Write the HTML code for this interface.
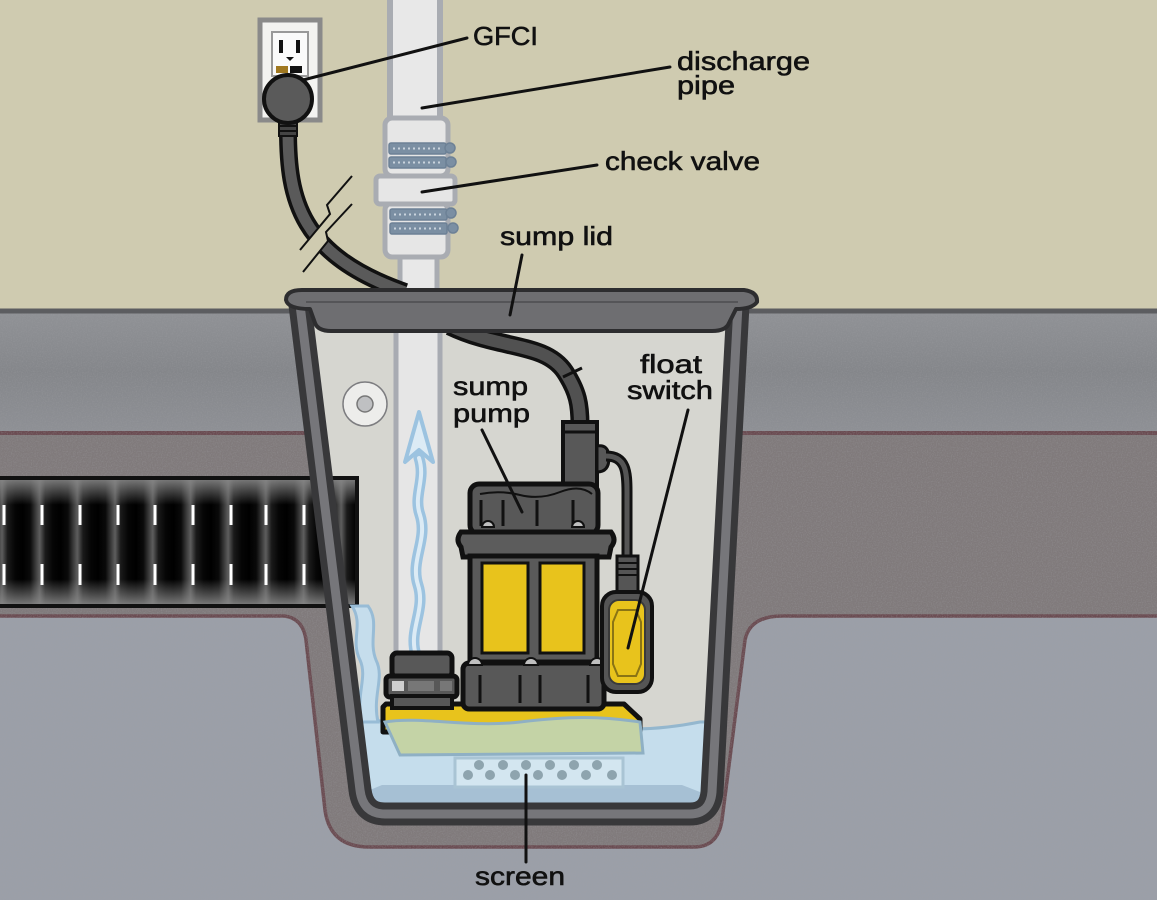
<!DOCTYPE html>
<html>
<head>
<meta charset="utf-8">
<style>
html,body{margin:0;padding:0;background:#cfcbb0;}
svg{display:block;}
text{font-family:"Liberation Sans","DejaVu Sans",sans-serif;font-size:26px;fill:#111;stroke:#111;stroke-width:0.6px;}
</style>
</head>
<body>
<svg width="1157" height="900" viewBox="0 0 1157 900" xmlns="http://www.w3.org/2000/svg">
<defs>
  <linearGradient id="slabG" x1="0" y1="0" x2="0" y2="1">
    <stop offset="0" stop-color="#909296"/>
    <stop offset="0.5" stop-color="#84868a"/>
    <stop offset="1" stop-color="#8e9095"/>
  </linearGradient>
  <linearGradient id="corr" x1="0" y1="0" x2="1" y2="0">
    <stop offset="0" stop-color="#000"/>
    <stop offset="0.2" stop-color="#0a0a0a"/>
    <stop offset="0.45" stop-color="#5e5e5e"/>
    <stop offset="0.6" stop-color="#1a1a1a"/>
    <stop offset="0.8" stop-color="#050505"/>
    <stop offset="1" stop-color="#000"/>
  </linearGradient>
  <pattern id="corrP" x="-15" y="0" width="37.7" height="200" patternUnits="userSpaceOnUse">
    <rect width="37.7" height="200" fill="url(#corr)"/>
  </pattern>
  <linearGradient id="fadeV" x1="0" y1="0" x2="0" y2="1">
    <stop offset="0" stop-color="#8a8a8a" stop-opacity="0.85"/>
    <stop offset="0.2" stop-color="#8a8a8a" stop-opacity="0"/>
    <stop offset="0.8" stop-color="#8a8a8a" stop-opacity="0"/>
    <stop offset="1" stop-color="#8a8a8a" stop-opacity="0.85"/>
  </linearGradient>
  <clipPath id="interior">
    <path d="M300,305 L360,790 Q363,814 385,814 L690,814 Q710,814 712,792 L738,305 Z"/>
  </clipPath>
  <filter id="grain" x="0" y="0" width="100%" height="100%">
    <feTurbulence type="fractalNoise" baseFrequency="0.8" numOctaves="2" seed="4" result="n"/>
    <feColorMatrix in="n" type="matrix" values="0 0 0 0 0.35  0 0 0 0 0.35  0 0 0 0 0.37  0 0 0 -2.2 1.3"/>
  </filter>
</defs>

<!-- wall -->
<rect x="0" y="0" width="1157" height="312" fill="#cfcbb0"/>
<!-- slab -->
<rect x="0" y="310" width="1157" height="123" fill="url(#slabG)"/>
<!-- gravel -->
<rect x="0" y="432" width="1157" height="468" fill="#807a7b"/>
<line x1="0" y1="433" x2="1157" y2="433" stroke="#6a4b51" stroke-width="4"/>
<!-- lower soil -->
<path d="M-5,616 L284,616 Q303,618 306,640 L325,810 Q330,847 369,847 L694,847 Q718,847 722,820 L745,640 Q750,616 782,616 L1162,616 L1162,905 L-5,905 Z" fill="#9b9fa8" stroke="#6a4b51" stroke-width="3.5"/>
<!-- grain overlay -->
<rect x="0" y="312" width="1157" height="588" filter="url(#grain)" opacity="0.35"/>
<!-- slab top line -->
<line x1="0" y1="311" x2="1157" y2="311" stroke="#5c5d60" stroke-width="5"/>

<!-- bucket interior -->
<path d="M300,305 L360,790 Q363,814 385,814 L690,814 Q710,814 712,792 L738,305 Z" fill="#d6d6d0"/>

<g clip-path="url(#interior)">
  <!-- inner pipe -->
  <rect x="396" y="320" width="44" height="340" fill="#e6e6e6" stroke="#a8abb2" stroke-width="5"/>
  <!-- wall fitting circle -->
  <circle cx="365" cy="404" r="22" fill="#ededeb" stroke="#7d7d80" stroke-width="1.5"/>
  <circle cx="365" cy="404" r="8" fill="#bfc0c2" stroke="#777" stroke-width="1.5"/>
  <!-- up arrow -->
  <path d="M416,655 C408,630 426,610 418,585 C410,560 428,540 420,515 C413,495 426,480 419,458" fill="none" stroke="#9cc3e0" stroke-width="11" stroke-linecap="round"/>
  <path d="M416,655 C408,630 426,610 418,585 C410,560 428,540 420,515 C413,495 426,480 419,458" fill="none" stroke="#dcebf5" stroke-width="4" stroke-linecap="round"/>
  <path d="M419,412 L433,462 L419,450 L405,462 Z" fill="#dcebf5" stroke="#9cc3e0" stroke-width="4" stroke-linejoin="round"/>
  <!-- water -->
  <path d="M330,722 C380,716 420,728 460,722 S540,716 580,724 S660,730 700,722 L730,722 L730,830 L330,830 Z" fill="#c5ddec" stroke="#94b7ce" stroke-width="3"/>
  <path d="M370,790 L382,785 L682,785 L700,792 L700,830 L370,830 Z" fill="#a6c0d4"/>
  <!-- screen -->
  <rect x="455" y="758" width="168" height="29" fill="#d3e6f0" stroke="#a9c4d4" stroke-width="3"/>
  <g fill="#8ea4ae">
    <circle cx="479" cy="765" r="5"/><circle cx="503" cy="765" r="5"/><circle cx="526" cy="765" r="5"/><circle cx="550" cy="765" r="5"/><circle cx="574" cy="765" r="5"/><circle cx="597" cy="765" r="5"/>
    <circle cx="468" cy="775" r="5"/><circle cx="490" cy="775" r="5"/><circle cx="515" cy="775" r="5"/><circle cx="538" cy="775" r="5"/><circle cx="562" cy="775" r="5"/><circle cx="586" cy="775" r="5"/><circle cx="612" cy="775" r="5"/>
  </g>
  <!-- yellow base -->
  <path d="M386,704 L624,704 L640,719 L640,732 L383,732 L383,707 Z" fill="#e8c31c" stroke="#111" stroke-width="5" stroke-linejoin="round"/>
  <!-- green plate -->
  <path d="M385,722 C420,716 470,728 520,722 S600,716 640,722 L643,753 L400,755 Z" fill="#c4d3a6" stroke="#8fb0c4" stroke-width="3"/>
</g>

<!-- drain pipe -->
<rect x="-5" y="478" width="362" height="128" fill="url(#corrP)" stroke="#111" stroke-width="4"/>
<rect x="-3" y="480" width="358" height="124" fill="url(#fadeV)"/>
<g stroke="#fff" stroke-width="3">
  <line x1="4" y1="505" x2="4" y2="525"/><line x1="42" y1="505" x2="42" y2="525"/><line x1="80" y1="505" x2="80" y2="525"/><line x1="118" y1="505" x2="118" y2="525"/><line x1="155" y1="505" x2="155" y2="525"/><line x1="193" y1="505" x2="193" y2="525"/><line x1="231" y1="505" x2="231" y2="525"/><line x1="266" y1="505" x2="266" y2="525"/><line x1="304" y1="505" x2="304" y2="525"/>
  <line x1="4" y1="564" x2="4" y2="585"/><line x1="42" y1="564" x2="42" y2="585"/><line x1="80" y1="564" x2="80" y2="585"/><line x1="118" y1="564" x2="118" y2="585"/><line x1="155" y1="564" x2="155" y2="585"/><line x1="193" y1="564" x2="193" y2="585"/><line x1="231" y1="564" x2="231" y2="585"/><line x1="266" y1="564" x2="266" y2="585"/><line x1="304" y1="564" x2="304" y2="585"/>
</g>
<!-- water stream from drain -->
<path d="M352,606 C364,625 350,640 360,660 C368,678 355,695 362,722 L378,722 C372,695 385,678 376,660 C368,640 380,622 368,606 Z" fill="#c5ddec" stroke="#98bcd6" stroke-width="3"/>

<!-- pump cord inside -->
<path d="M450,326 C500,350 545,342 565,372 C578,392 580,405 580,425" fill="none" stroke="#111" stroke-width="19"/>
<path d="M450,326 C500,350 545,342 565,372 C578,392 580,405 580,425" fill="none" stroke="#515151" stroke-width="12"/>
<line x1="563" y1="377" x2="582" y2="368" stroke="#111" stroke-width="3"/>

<!-- pump column -->
<rect x="563" y="422" width="34" height="68" fill="#585858" stroke="#111" stroke-width="4"/>
<line x1="563" y1="432" x2="597" y2="432" stroke="#111" stroke-width="3"/>
<path d="M597,446 Q609,444 609,458 Q609,472 597,472 Z" fill="#585858" stroke="#111" stroke-width="3"/>
<!-- float cord -->
<path d="M606,456 C626,456 627,472 627,492 L627,560" fill="none" stroke="#111" stroke-width="11"/>
<path d="M606,456 C626,456 627,472 627,492 L627,560" fill="none" stroke="#555" stroke-width="5"/>

<!-- pump cap -->
<rect x="470" y="484" width="128" height="50" rx="9" fill="#585858" stroke="#111" stroke-width="5"/>
<path d="M480,494 Q500,490 520,495 T560,492 T592,494" fill="none" stroke="#111" stroke-width="2"/>
<g stroke="#111" stroke-width="3">
  <line x1="481" y1="500" x2="481" y2="526"/><line x1="503" y1="500" x2="503" y2="526"/><line x1="537" y1="500" x2="537" y2="526"/><line x1="573" y1="500" x2="573" y2="526"/>
</g>
<line x1="520" y1="470" x2="520" y2="470" stroke="none"/>
<!-- flange -->
<path d="M461,532 L611,532 Q617,540 611,547 L609,557 L463,557 L461,547 Q455,540 461,532 Z" fill="#5c5c5c" stroke="#111" stroke-width="5"/>
<path d="M482,527 a6,6 0 0 1 12,0 Z" fill="#c0c0c0" stroke="#111" stroke-width="2"/>
<path d="M572,527 a6,6 0 0 1 12,0 Z" fill="#c0c0c0" stroke="#111" stroke-width="2"/>
<!-- body -->
<rect x="470" y="556" width="127" height="106" fill="#5a5a5a" stroke="#111" stroke-width="5"/>
<rect x="482" y="563" width="46" height="90" fill="#e8c31c" stroke="#111" stroke-width="3"/>
<rect x="540" y="563" width="44" height="90" fill="#e8c31c" stroke="#111" stroke-width="3"/>
<!-- lower body -->
<rect x="463" y="663" width="141" height="46" rx="6" fill="#585858" stroke="#111" stroke-width="5"/>
<g stroke="#111" stroke-width="3">
  <line x1="480" y1="675" x2="480" y2="703"/><line x1="520" y1="675" x2="520" y2="703"/><line x1="540" y1="675" x2="540" y2="703"/><line x1="588" y1="675" x2="588" y2="703"/>
</g>
<path d="M468,665 a7,7 0 0 1 14,0 Z" fill="#c0c0c0" stroke="#111" stroke-width="2"/>
<path d="M524,665 a7,7 0 0 1 14,0 Z" fill="#c0c0c0" stroke="#111" stroke-width="2"/>
<path d="M590,665 a7,7 0 0 1 14,0 Z" fill="#c0c0c0" stroke="#111" stroke-width="2"/>

<!-- fitting -->
<rect x="392" y="653" width="60" height="24" rx="5" fill="#585858" stroke="#111" stroke-width="5"/>
<rect x="386" y="676" width="71" height="21" rx="4" fill="#585858" stroke="#111" stroke-width="5"/>
<rect x="392" y="681" width="12" height="10" fill="#d0d0d0"/>
<rect x="408" y="681" width="26" height="10" fill="#777"/>
<rect x="440" y="681" width="12" height="10" fill="#777"/>
<rect x="392" y="696" width="60" height="12" fill="#585858" stroke="#111" stroke-width="4"/>

<!-- float switch -->
<rect x="617" y="556" width="21" height="38" fill="#555" stroke="#111" stroke-width="3"/>
<g stroke="#111" stroke-width="2"><line x1="617" y1="563" x2="638" y2="563"/><line x1="617" y1="569" x2="638" y2="569"/><line x1="617" y1="575" x2="638" y2="575"/></g>
<rect x="602" y="592" width="50" height="100" rx="14" fill="#555" stroke="#111" stroke-width="4"/>
<rect x="609" y="600" width="36" height="84" rx="10" fill="#e8c31c" stroke="#3a3a3a" stroke-width="2"/>
<path d="M618,610 L636,610 L641,622 L641,664 L636,676 L618,676 L613,664 L613,622 Z" fill="none" stroke="#8a7414" stroke-width="2"/>

<!-- bucket walls -->
<path d="M300,305 L360,790 Q363,814 385,814 L690,814 Q710,814 712,792 L738,305" fill="none" stroke="#38383a" stroke-width="23" stroke-linejoin="round"/>
<path d="M300,305 L360,790 Q363,814 385,814 L690,814 Q710,814 712,792 L738,305" fill="none" stroke="#76767a" stroke-width="9" stroke-linejoin="round"/>

<!-- discharge pipe above -->
<rect x="390" y="-10" width="50" height="132" fill="#e8e8e8" stroke="#a9acb2" stroke-width="6"/>
<rect x="400" y="252" width="37" height="44" fill="#e8e8e8" stroke="#a9acb2" stroke-width="5"/>
<rect x="385" y="118" width="63" height="58" rx="7" fill="#e6e6e6" stroke="#a9acb2" stroke-width="5"/>
<rect x="385" y="203" width="63" height="54" rx="7" fill="#e6e6e6" stroke="#a9acb2" stroke-width="5"/>
<rect x="376" y="176" width="79" height="28" rx="4" fill="#e6e6e6" stroke="#a9acb2" stroke-width="5"/>
<!-- clamps -->
<g fill="#7b8fa3" stroke="#6d8196" stroke-width="1.5">
  <rect x="389" y="143" width="57" height="11" rx="2"/><rect x="389" y="157" width="57" height="11" rx="2"/>
  <rect x="390" y="209" width="57" height="11" rx="2"/><rect x="390" y="223" width="57" height="11" rx="2"/>
  <circle cx="450" cy="148" r="5"/><circle cx="451" cy="162" r="5"/>
  <circle cx="451" cy="213" r="5"/><circle cx="453" cy="228" r="5"/>
</g>
<g stroke="#c9d3dd" stroke-width="2" stroke-dasharray="2 3">
  <line x1="393" y1="148.5" x2="443" y2="148.5"/><line x1="393" y1="162.5" x2="443" y2="162.5"/>
  <line x1="394" y1="214.5" x2="444" y2="214.5"/><line x1="394" y1="228.5" x2="444" y2="228.5"/>
</g>

<!-- outlet -->
<rect x="260" y="20" width="60" height="100" fill="#f3f3f1" stroke="#8a8a8a" stroke-width="5"/>
<rect x="272" y="32" width="36" height="44" fill="#fafafa" stroke="#999" stroke-width="2"/>
<rect x="279" y="40" width="4" height="13" fill="#111"/>
<rect x="296" y="40" width="4" height="13" fill="#111"/>
<path d="M286,57 L294,57 L290,61 Z" fill="#111"/>
<rect x="276" y="66" width="12" height="7" fill="#a07820"/>
<rect x="290" y="66" width="12" height="7" fill="#111"/>

<!-- outside cord -->
<path d="M288,130 C288,200 300,255 405,292" fill="none" stroke="#111" stroke-width="18"/>
<path d="M288,130 C288,200 300,255 405,292" fill="none" stroke="#5a5a5a" stroke-width="11"/>
<!-- break gap -->
<path d="M352,176 L327,205 L330,214 L300,250 L303,272 L328,241 L326,232 L352,204 Z" fill="#cfcbb0"/>
<path d="M352,176 L327,205 L330,214 L300,250" fill="none" stroke="#111" stroke-width="2"/>
<path d="M352,204 L326,232 L328,241 L303,272" fill="none" stroke="#111" stroke-width="2"/>
<!-- plug -->
<rect x="279" y="120" width="18" height="16" fill="#444" stroke="#111" stroke-width="2"/>
<line x1="279" y1="126" x2="297" y2="126" stroke="#111" stroke-width="2"/>
<line x1="279" y1="131" x2="297" y2="131" stroke="#111" stroke-width="2"/>
<circle cx="288" cy="99" r="24" fill="#5a5a5a" stroke="#111" stroke-width="4"/>

<!-- lid -->
<path d="M286,300 Q286,290 302,290 L744,290 Q758,292 757,302 Q752,309 736,309 L729,323 Q726,331 712,331 L331,331 Q318,331 315,323 L310,309 Q288,309 286,300 Z" fill="#6e6e71" stroke="#2d2d2f" stroke-width="4" stroke-linejoin="round"/>
<path d="M306,302 L738,302" stroke="#555558" stroke-width="2"/>

<!-- leader lines -->
<g stroke="#111" stroke-width="3" stroke-linecap="round">
  <line x1="303" y1="80" x2="467" y2="38"/>
  <line x1="422" y1="108" x2="670" y2="67"/>
  <line x1="422" y1="192" x2="597" y2="165"/>
  <line x1="522" y1="255" x2="510" y2="315"/>
  <line x1="482" y1="430" x2="522" y2="512"/>
  <line x1="688" y1="410" x2="628" y2="648"/>
  <line x1="526" y1="775" x2="526" y2="862"/>
</g>

<!-- labels -->
<text x="473" y="45" textLength="65" lengthAdjust="spacingAndGlyphs">GFCI</text>
<text x="677" y="70" textLength="133" lengthAdjust="spacingAndGlyphs">discharge</text>
<text x="677" y="94" textLength="58" lengthAdjust="spacingAndGlyphs">pipe</text>
<text x="605" y="170" textLength="155" lengthAdjust="spacingAndGlyphs">check valve</text>
<text x="500" y="245" textLength="113" lengthAdjust="spacingAndGlyphs">sump lid</text>
<text x="453" y="395" textLength="75" lengthAdjust="spacingAndGlyphs">sump</text>
<text x="453" y="422" textLength="77" lengthAdjust="spacingAndGlyphs">pump</text>
<text x="640" y="373" textLength="62" lengthAdjust="spacingAndGlyphs">float</text>
<text x="627" y="399" textLength="86" lengthAdjust="spacingAndGlyphs">switch</text>
<text x="475" y="885" textLength="90" lengthAdjust="spacingAndGlyphs">screen</text>
</svg>
</body>
</html>
